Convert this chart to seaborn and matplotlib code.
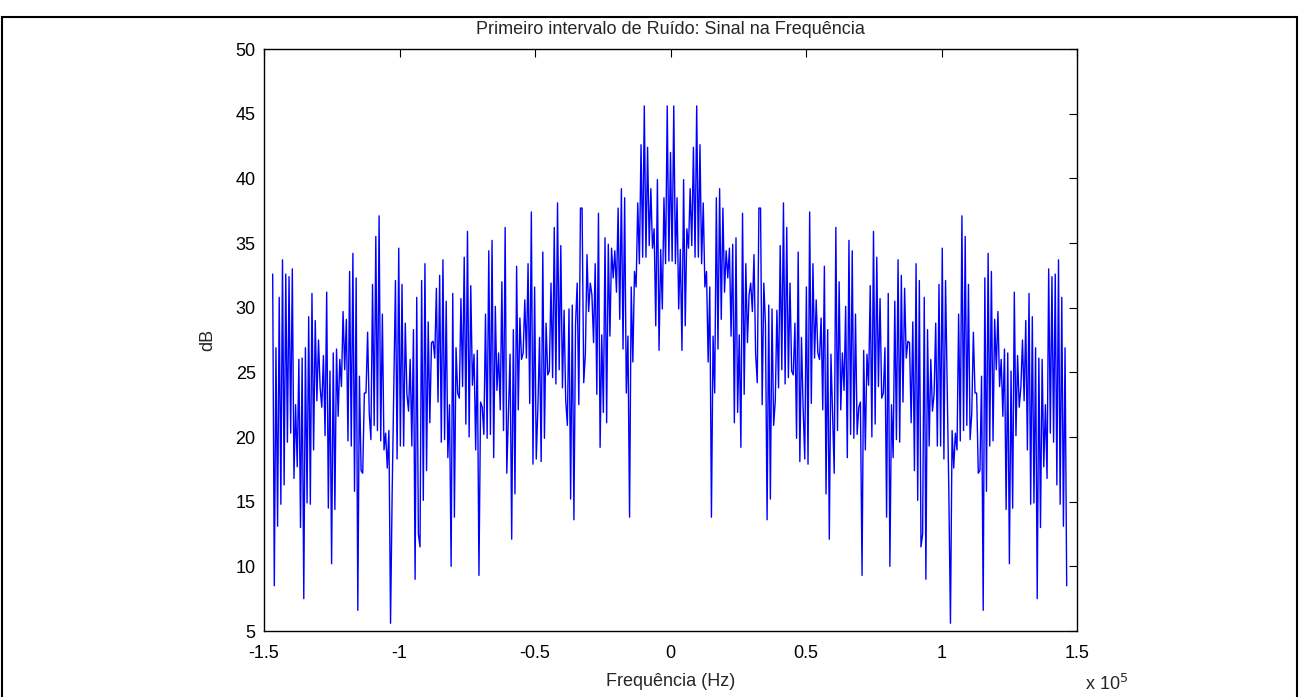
import numpy as np
import pandas as pd
import seaborn as sns
import matplotlib
matplotlib.use("Agg")
import matplotlib.pyplot as plt
from matplotlib.ticker import FuncFormatter
from matplotlib.patches import Rectangle


# Magnitude (dB), from -fs/2 up to DC (left half).
# The spectrum is mirrored around 0 Hz, so the right half reuses it.
db_left = [
    32.6, 8.5, 26.9, 13.1, 30.8, 14.8, 33.7, 16.3, 32.6, 19.6, 32.4, 20.3,
    33.0, 16.8, 22.5, 17.7, 26.0, 13.0, 26.1, 7.5, 26.9, 14.9, 29.3, 14.8,
    31.1, 19.0, 29.0, 22.8, 27.5, 23.8, 22.3, 26.3, 20.1, 31.2, 14.5,
    25.1, 10.2, 26.5, 14.4, 26.8, 21.6, 26.0, 23.9, 29.7, 25.2, 29.1, 19.7,
    32.8, 19.3, 34.2, 15.8, 32.3, 6.6, 24.7, 17.4, 17.2, 23.4, 23.4, 28.1,
    21.8, 19.8, 31.8, 20.9, 35.5, 20.5, 37.1, 19.7, 29.5, 19.0, 20.3, 17.6,
    20.5, 5.6, 15.8, 23.9, 32.1,
    18.3, 34.6, 19.3, 31.8, 19.3, 28.8, 23.3, 22.0, 26.0, 19.3, 28.3, 9.0,
    30.8, 12.5, 11.5, 32.1, 15.1, 33.4, 17.4, 28.9, 21.1, 27.3, 27.4, 26.1,
    31.5, 22.7, 32.5, 19.6, 33.7, 19.8, 30.5, 18.4, 22.5, 10.0, 31.1, 13.8,
    26.9, 23.4, 23.0, 30.7, 23.9, 33.9,
    21.0, 35.9, 20.0, 31.7, 24.0, 26.4, 19.0, 26.7, 9.3, 22.7, 22.3, 20.2,
    29.5, 19.9, 34.4, 20.2, 35.2, 18.4, 30.1, 23.6, 26.5, 22.1, 32.0, 20.5,
    36.2, 17.2, 21.8, 26.4, 12.1, 28.3, 15.6, 33.2, 22.1, 29.2, 26.0, 26.5,
    30.6, 26.1, 33.4, 22.6, 37.4,
    17.9, 31.6, 18.3, 22.3, 27.7, 18.1, 34.3, 19.9, 28.8, 24.8, 25.1, 31.9,
    24.6, 36.2, 24.1, 38.1, 25.2, 34.8, 23.8, 29.8, 22.8, 20.9, 29.9, 15.2,
    30.2, 13.6, 28.7, 31.9, 22.5, 37.7, 37.7, 24.2, 26.4, 34.1, 29.7, 31.9,
    31.0, 27.3, 33.4, 23.3, 37.3, 19.2, 27.9,
    21.9, 35.4, 21.1, 34.9, 27.8, 34.6, 32.3, 34.4, 31.2, 37.7, 29.1, 39.2,
    26.8, 38.5, 23.4, 27.8, 13.8, 31.6, 25.8, 32.8, 31.6, 38.1, 33.4, 42.6,
    33.9, 45.6, 33.9, 42.4, 34.8, 39.2, 34.6, 36.1, 28.6, 39.9, 26.7, 34.5,
    29.9, 38.5, 33.4, 45.6, 33.6, 42.0,
]
f_edge = -1.468e5  # first frequency bin (Hz)

xticks = [-1.5e5, -1e5, -0.5e5, 0, 0.5e5, 1e5, 1.5e5]
yticks = list(range(5, 51, 5))

# full spectrum: left half + mirror (no repeat of DC / -fs/2 bin)
db = np.array(db_left + db_left[1:-1][::-1])
n_dc = len(db_left) - 1
df_bin = -f_edge / n_dc
freq = (np.arange(len(db)) - n_dc) * df_bin
df = pd.DataFrame({"freq": freq, "db": db})

sns.set_theme(style="white")
plt.rcParams["font.family"] = ["Liberation Sans", "DejaVu Sans"]

fig = plt.figure(figsize=(13.02, 6.97), dpi=100)
ax = fig.add_axes([264 / 1302, 66 / 697, 813 / 1302, 582 / 697])

sns.lineplot(data=df, x="freq", y="db", ax=ax, color="#0000ff", linewidth=1.0)

ax.set_xlim(-1.5e5, 1.5e5)
ax.set_ylim(5, 50)
ax.set_xticks(xticks)
ax.set_yticks(yticks)
ax.xaxis.set_major_formatter(FuncFormatter(lambda v, p: f"{v / 1e5:g}"))
ax.tick_params(direction="in", length=6, width=0.8, top=True, right=True,
               labelsize=13, colors="black")
ax.tick_params(axis="x", pad=10)
ax.tick_params(axis="y", pad=6)
for s in ax.spines.values():
    s.set_color("black")
    s.set_linewidth(1.0)

ax.set_title("Primeiro intervalo de Ruído: Sinal na Frequência", fontsize=13,
             pad=11)
ax.set_xlabel("Frequência (Hz)", fontsize=13, labelpad=8)
ax.set_ylabel("dB", fontsize=13, labelpad=14)
ax.text(1.0098, -0.074, r"x 10$^5$", transform=ax.transAxes, fontsize=13,
        va="top", ha="left")

# page frame around the figure
fig.add_artist(Rectangle((2 / 1302, -0.01), 1295 / 1302, 1 - 17 / 697 + 0.01,
                         transform=fig.transFigure, fill=False,
                         edgecolor="black", linewidth=1.5))

fig.savefig("out.png", dpi=100)
